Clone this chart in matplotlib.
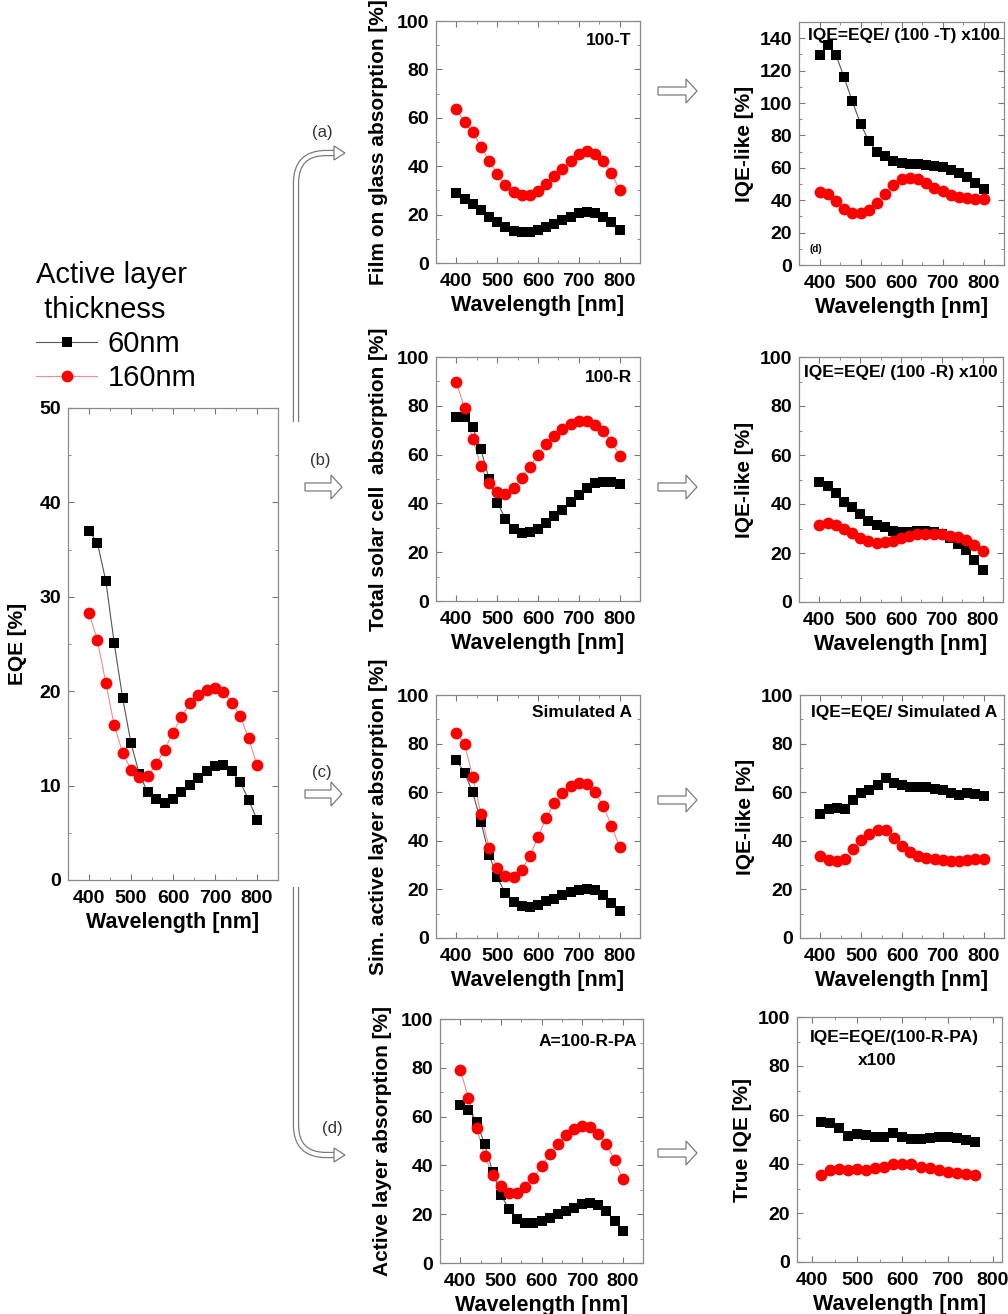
import matplotlib
matplotlib.use('Agg')
import matplotlib.pyplot as plt
from matplotlib.patches import Polygon, PathPatch
from matplotlib.path import Path
from matplotlib.ticker import MultipleLocator

plt.rcParams['font.family'] = ['Liberation Sans', 'DejaVu Sans']
plt.rcParams['font.weight'] = 'bold'
plt.rcParams['axes.labelweight'] = 'bold'

# ---------------- data ----------------
wl = [400, 420, 440, 460, 480, 500, 520, 540, 560, 580, 600,
      620, 640, 660, 680, 700, 720, 740, 760, 780, 800]
wl_true = [420, 440, 460, 480, 500, 520, 540, 560, 580,
           600, 620, 640, 660, 680, 700, 720, 740, 760]

eqe_60 = [37.0, 35.7, 31.7, 25.1, 19.3, 14.5, 11.2, 9.3, 8.6, 8.2, 8.6,
          9.3, 10.1, 10.8, 11.5, 12.1, 12.2, 11.5, 10.4, 8.5, 6.4]
eqe_160 = [28.3, 25.4, 20.9, 16.4, 13.5, 11.7, 10.9, 11.0, 12.3, 13.8, 15.6,
           17.3, 18.7, 19.6, 20.1, 20.3, 19.9, 18.8, 17.4, 15.0, 12.2]

film_60 = [28.8, 26.5, 24.5, 21.7, 19.2, 16.9, 14.7, 13.3, 12.8, 12.8, 13.7,
           14.8, 16.2, 17.6, 19.2, 20.6, 21.2, 20.6, 19.2, 16.9, 13.7]
film_160 = [63.5, 58.1, 54.0, 48.1, 42.3, 36.8, 32.3, 29.3, 28.2, 28.2, 29.8,
            32.7, 35.9, 38.9, 42.3, 45.2, 46.3, 45.2, 42.3, 37.1, 30.2]

iqeT_60 = [129.4, 136.1, 129.8, 115.8, 101.0, 87.3, 76.6, 69.8, 67.1, 64.3, 63.2,
           62.6, 62.2, 61.8, 61.0, 60.2, 58.5, 56.5, 54.4, 50.5, 46.8]
iqeT_160 = [45.0, 44.1, 39.2, 34.7, 32.4, 32.0, 33.9, 38.2, 44.1, 49.1, 52.8,
            53.4, 52.8, 50.7, 47.8, 45.4, 43.3, 42.1, 41.5, 40.7, 40.7]

total_60 = [75.5, 75.5, 71.2, 62.1, 50.1, 40.3, 33.8, 29.7, 27.9, 28.1, 29.7,
            32.1, 34.9, 37.5, 40.4, 43.4, 46.3, 48.2, 48.9, 48.9, 47.9]
total_160 = [89.6, 79.0, 66.4, 55.3, 48.2, 44.8, 43.8, 46.2, 50.3, 55.1, 59.9,
             64.4, 67.8, 70.4, 72.5, 73.8, 73.8, 72.2, 69.7, 65.3, 59.6]

iqeR_60 = [49.0, 47.2, 44.5, 40.7, 38.6, 36.1, 33.1, 31.3, 30.5, 29.1, 28.7,
           28.7, 28.8, 29.0, 28.7, 27.9, 26.1, 23.8, 21.1, 17.3, 13.2]
iqeR_160 = [31.6, 32.2, 31.6, 29.8, 28.2, 26.1, 24.9, 24.1, 24.6, 24.9, 26.1,
            27.1, 27.6, 27.9, 27.9, 27.6, 27.1, 26.4, 25.2, 23.1, 20.7]

sim_60 = [73.2, 68.0, 59.9, 47.8, 34.3, 24.9, 18.5, 14.8, 13.0, 12.8, 13.7,
          15.1, 16.2, 17.6, 19.0, 19.9, 20.3, 19.6, 17.6, 14.6, 11.1]
sim_160 = [84.2, 79.8, 66.3, 51.0, 37.1, 28.8, 25.5, 25.1, 27.9, 33.7, 41.6,
           49.5, 55.4, 59.5, 62.5, 63.9, 63.3, 59.9, 54.3, 46.2, 37.5]

iqeS_60 = [51.0, 53.0, 53.4, 53.0, 56.7, 59.5, 60.9, 62.8, 65.7, 63.9, 62.8,
           62.0, 62.0, 62.2, 61.5, 60.9, 59.8, 58.7, 59.5, 59.2, 58.4]
iqeS_160 = [33.8, 32.3, 31.7, 32.6, 36.7, 40.5, 43.0, 44.4, 44.6, 41.3, 37.9,
            35.4, 33.9, 33.1, 32.4, 32.0, 31.6, 31.6, 32.3, 32.6, 32.7]

active_60 = [64.6, 62.9, 57.9, 48.7, 37.2, 28.0, 22.0, 18.2, 16.4, 16.4, 17.2,
             18.6, 20.1, 21.3, 22.7, 24.1, 24.6, 23.7, 21.2, 17.4, 13.1]
active_160 = [79.1, 67.7, 55.4, 43.9, 36.0, 31.6, 28.7, 28.7, 31.2, 34.7, 39.7,
              44.7, 48.8, 52.4, 54.9, 56.2, 55.7, 52.8, 48.7, 42.1, 34.5]

true_60 = [57.3, 56.9, 54.8, 51.6, 52.1, 51.8, 51.2, 51.2, 52.5,
           51.2, 50.3, 50.1, 50.5, 51.2, 51.0, 50.7, 49.8, 49.0]
true_160 = [35.7, 37.5, 37.8, 37.7, 37.8, 37.4, 38.2, 38.9, 40.0,
            40.0, 39.8, 38.9, 38.2, 37.4, 36.7, 36.2, 35.8, 35.6]

# ---------------- figure ----------------
W, H = 1008, 1314
fig = plt.figure(figsize=(W / 100, H / 100), dpi=100)


def add_ax(l, t, r, b):
    return fig.add_axes([l / W, 1 - b / H, (r - l) / W, (b - t) / H])


def style(ax, ylim, ymaj, xlim=(350, 850), ylabel='', lpad=6):
    ax.set_xlim(*xlim)
    ax.set_ylim(*ylim)
    ax.xaxis.set_major_locator(MultipleLocator(100))
    ax.xaxis.set_minor_locator(MultipleLocator(50))
    ax.yaxis.set_major_locator(MultipleLocator(ymaj))
    ax.yaxis.set_minor_locator(MultipleLocator(ymaj / 2))
    ax.tick_params(which='both', direction='in', top=True, right=True,
                   color='#777777')
    ax.tick_params(which='major', length=4, labelsize=14)
    ax.tick_params(axis='x', which='major', pad=7)
    ax.tick_params(axis='y', which='major', pad=5)
    ax.tick_params(which='minor', length=2)
    for s in ax.spines.values():
        s.set_color('#8a8a8a')
        s.set_linewidth(0.9)
    ax.set_xlabel('Wavelength [nm]', fontsize=15.5, labelpad=4)
    ax.set_ylabel(ylabel, fontsize=15, labelpad=lpad)


def series(ax, x, y60, y160, line60=True, line160=True):
    if line160:
        ax.plot(x, y160, '-', color='#f28a8a', lw=0.8, zorder=2)
    if line60:
        ax.plot(x, y60, '-', color='#555555', lw=0.8, zorder=2)
    h60, = ax.plot(x, y60, 's', color='black', ms=7.5, mew=0, zorder=3,
                   label='60nm')
    h160, = ax.plot(x, y160, 'o', color='red', ms=8.5, mew=0, zorder=3,
                    label='160nm')
    return h60, h160


def ptext(ax, x, y, s, ha='right', size=12.5):
    ax.text(x, y, s, transform=ax.transAxes, ha=ha, va='center', fontsize=size)


# EQE panel
ax0 = add_ax(68, 408, 278, 880)
style(ax0, (0, 50), 10, ylabel='EQE [%]', lpad=9)
ln60 = ax0.plot(wl, eqe_60, '-', color='#555555', lw=0.8)[0]
ln160 = ax0.plot(wl, eqe_160, '-', color='#f28a8a', lw=0.8)[0]
h60, h160 = series(ax0, wl, eqe_60, eqe_160, line60=False, line160=False)

leg = fig.legend([(ln60, h60), (ln160, h160)], ['60nm', '160nm'],
                 title='Active layer\n thickness', loc='upper left',
                 bbox_to_anchor=(36 / W, 1 - 261 / H), frameon=False,
                 prop={'size': 21, 'weight': 'normal'},
                 title_fontproperties={'size': 21, 'weight': 'normal'},
                 handlelength=2.1, handletextpad=0.35, labelspacing=0.22,
                 borderpad=0, borderaxespad=0, numpoints=1)
leg._legend_box.align = 'left'
leg.get_title().set_linespacing(1.3)

# column 2
a1 = add_ax(436, 21, 640, 263)
style(a1, (0, 100), 20, ylabel='Film on glass absorption [%]')
series(a1, wl, film_60, film_160)
ptext(a1, 0.96, 0.92, '100-T')

a2 = add_ax(436, 357, 640, 601)
style(a2, (0, 100), 20, ylabel='Total solar cell  absorption [%]')
series(a2, wl, total_60, total_160)
ptext(a2, 0.96, 0.918, '100-R')

a3 = add_ax(436, 695, 640, 938)
style(a3, (0, 100), 20, ylabel='Sim. active layer absorption [%]')
series(a3, wl, sim_60, sim_160)
ptext(a3, 0.96, 0.926, 'Simulated A')

a4 = add_ax(440, 1019, 643, 1263)
style(a4, (0, 100), 20, ylabel='Active layer absorption [%]')
series(a4, wl, active_60, active_160)
ptext(a4, 0.97, 0.906, 'A=100-R-PA')

# column 3
b1 = add_ax(799, 22, 1004, 265)
style(b1, (0, 150), 20, ylabel='IQE-like [%]', lpad=4)
series(b1, wl, iqeT_60, iqeT_160, line60=True, line160=False)
ptext(b1, 0.51, 0.946, 'IQE=EQE/ (100 -T) x100', ha='center')
ptext(b1, 0.08, 0.066, '(d)', ha='center', size=7)

b2 = add_ax(799, 357, 1003, 602)
style(b2, (0, 100), 20, ylabel='IQE-like [%]', lpad=4)
series(b2, wl, iqeR_60, iqeR_160, line60=False, line160=False)
ptext(b2, 0.50, 0.935, 'IQE=EQE/ (100 -R) x100', ha='center')

b3 = add_ax(800, 695, 1004, 938)
style(b3, (0, 100), 20, ylabel='IQE-like [%]', lpad=4)
series(b3, wl, iqeS_60, iqeS_160, line60=False, line160=False)
ptext(b3, 0.51, 0.926, 'IQE=EQE/ Simulated A', ha='center')

b4 = add_ax(797, 1017, 1002, 1262)
style(b4, (0, 100), 20, xlim=(367, 820), ylabel='True IQE [%]', lpad=4)
series(b4, wl_true, true_60, true_160, line60=False, line160=False)
ptext(b4, 0.476, 0.918, 'IQE=EQE/(100-R-PA)', ha='center')
ptext(b4, 0.39, 0.824, 'x100', ha='center')

# ---------------- arrows overlay ----------------
ov = fig.add_axes([0, 0, 1, 1], zorder=-1)
ov.set_xlim(0, W)
ov.set_ylim(H, 0)
ov.axis('off')
ov.patch.set_alpha(0)

EC = '#7a7a7a'


def block_arrow(x0, x1, y, hs=4, hh=12, head=11):
    xh = x1 - head
    pts = [(x0, y - hs), (xh, y - hs), (xh, y - hh), (x1, y),
           (xh, y + hh), (xh, y + hs), (x0, y + hs)]
    ov.add_patch(Polygon(pts, closed=True, facecolor='white',
                         edgecolor=EC, lw=0.9))


for yy in (91, 487, 800, 1153):
    block_arrow(658, 697, yy)
block_arrow(305, 342, 487)
block_arrow(305, 342, 794)


def tube(verts, codes):
    p = Path(verts, codes)
    ov.add_patch(PathPatch(p, facecolor='none', edgecolor=EC, lw=4.6,
                           capstyle='butt'))
    ov.add_patch(PathPatch(p, facecolor='none', edgecolor='white', lw=2.8,
                           capstyle='butt'))


tube([(296, 422), (296, 183), (296, 153), (326, 153), (336, 153)],
     [Path.MOVETO, Path.LINETO, Path.CURVE3, Path.CURVE3, Path.LINETO])
ov.add_patch(Polygon([(334, 146), (345, 153), (334, 160)], closed=True,
                     facecolor='white', edgecolor=EC, lw=0.9))

tube([(296, 887), (296, 1125), (296, 1155), (326, 1155), (336, 1155)],
     [Path.MOVETO, Path.LINETO, Path.CURVE3, Path.CURVE3, Path.LINETO])
ov.add_patch(Polygon([(334, 1148), (345, 1155), (334, 1162)], closed=True,
                     facecolor='white', edgecolor=EC, lw=0.9))

for lab, (x, y) in {'(a)': (322, 132), '(b)': (320, 461),
                    '(c)': (322, 773), '(d)': (332, 1128)}.items():
    ov.text(x, y, lab, ha='center', va='center', fontsize=12,
            fontweight='normal', color='#333333')

fig.savefig('out.png', dpi=100)
